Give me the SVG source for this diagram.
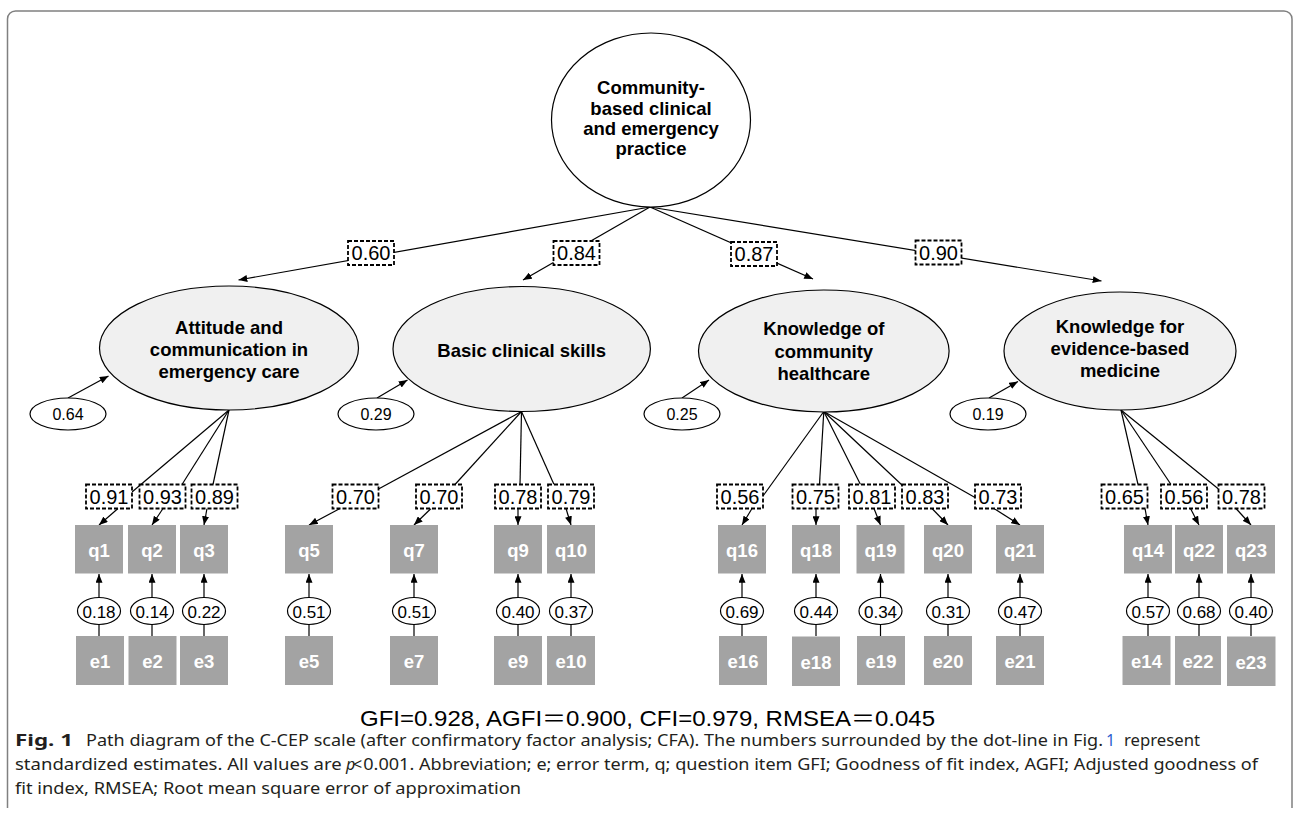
<svg xmlns="http://www.w3.org/2000/svg" width="1295" height="818" viewBox="0 0 1295 818">
<defs>
<marker id="ah" viewBox="0 0 10 8" refX="10" refY="4" markerWidth="9" markerHeight="7" markerUnits="userSpaceOnUse" orient="auto"><path d="M0,0 L10,4 L0,8 z" fill="#000"/></marker>
<style>
.ln{stroke:#000;stroke-width:1.2;fill:none}
.ar{stroke:#000;stroke-width:1.2;fill:none;marker-end:url(#ah)}
.fac{fill:#f0f0f0;stroke:#000;stroke-width:1.2}
.top{fill:#fff;stroke:#000;stroke-width:1.2}
.res{fill:#fff;stroke:#000;stroke-width:1.2}
.ld{fill:#fff;stroke:#000;stroke-width:1.8;stroke-dasharray:4 2}
.obs{fill:#a3a3a3}
.ft{font-family:"Liberation Sans",Arial,sans-serif;font-weight:bold;font-size:18.5px;fill:#000;text-anchor:middle}
.lt{font-family:"Liberation Sans",Arial,sans-serif;font-size:20px;fill:#000;text-anchor:middle}
.rt{font-family:"Liberation Sans",Arial,sans-serif;font-size:16px;fill:#000;text-anchor:middle}
.et{font-family:"Liberation Sans",Arial,sans-serif;font-size:17px;fill:#000;text-anchor:middle}
.qt{font-family:"Liberation Sans",Arial,sans-serif;font-weight:bold;font-size:18.5px;fill:#fff;text-anchor:middle}
.cap{font-family:"Noto Sans","Open Sans",sans-serif;font-size:16px;fill:#231f20}
</style>
</defs>
<path d="M7.5,808 L7.5,19 A8,8 0 0 1 15.5,11 L1284,11 A8,8 0 0 1 1292,19 L1292,808" fill="none" stroke="#808080" stroke-width="1.5"/>

<g id="connectors">
<path class="ar" d="M650,207 L238.5,280"/>
<path class="ar" d="M650,207 L523,280"/>
<path class="ar" d="M650,207 L813,279"/>
<path class="ar" d="M650,207 L1101.5,281"/>
<path class="ar" d="M68,398 L108.5,376"/>
<path class="ar" d="M377,398 L407.5,380"/>
<path class="ar" d="M682,398 L709,380"/>
<path class="ar" d="M989,398 L1018,381.5"/>
<path class="ln" d="M229,410 L132,492"/><path class="ar" d="M118,508.5 L99,525"/>
<path class="ln" d="M229,410 L182,484.5"/><path class="ar" d="M163,508.5 L152,525"/>
<path class="ln" d="M229,410 L213,484.5"/><path class="ar" d="M207,508.5 L204,525"/>
<path class="ln" d="M521.5,411.5 L378.5,489"/><path class="ar" d="M340,508.5 L309,525"/>
<path class="ln" d="M521.5,411.5 L455,484.5"/><path class="ar" d="M431,508.5 L414,525"/>
<path class="ln" d="M521.5,411.5 L520,484.5"/><path class="ar" d="M518,508.5 L518,525"/>
<path class="ln" d="M521.5,411.5 L554,484.5"/><path class="ar" d="M566,508.5 L571,525"/>
<path class="ln" d="M823.8,411.5 L763,496"/><path class="ar" d="M752,508.5 L742,525"/>
<path class="ln" d="M823.8,411.5 L819.5,484.5"/><path class="ar" d="M816,508.5 L816,525"/>
<path class="ln" d="M823.8,411.5 L860.5,484.5"/><path class="ar" d="M874,508.5 L880.5,525"/>
<path class="ln" d="M823.8,411.5 L903,486"/><path class="ar" d="M932,508.5 L948,525"/>
<path class="ln" d="M823.8,411.5 L975,497.5"/><path class="ar" d="M994,508.5 L1020,525"/>
<path class="ln" d="M1121,410 L1138,484.5"/><path class="ar" d="M1145,508.5 L1148,525"/>
<path class="ln" d="M1121,410 L1171,484.5"/><path class="ar" d="M1190.5,508.5 L1199,525"/>
<path class="ln" d="M1121,410 L1218.5,489"/><path class="ar" d="M1236,508.5 L1251,525"/>
<path class="ar" d="M99,597.5 L99,574"/><path class="ln" d="M99,624.5 L99,636"/>
<path class="ar" d="M152,597.5 L152,574"/><path class="ln" d="M152,624.5 L152,636"/>
<path class="ar" d="M204,597.5 L204,574"/><path class="ln" d="M204,624.5 L204,636"/>
<path class="ar" d="M309,597.5 L309,574"/><path class="ln" d="M309,624.5 L309,636"/>
<path class="ar" d="M414,597.5 L414,574"/><path class="ln" d="M414,624.5 L414,636"/>
<path class="ar" d="M518,597.5 L518,574"/><path class="ln" d="M518,624.5 L518,636"/>
<path class="ar" d="M571,597.5 L571,574"/><path class="ln" d="M571,624.5 L571,636"/>
<path class="ar" d="M742,597.5 L742,574"/><path class="ln" d="M742,624.5 L742,636"/>
<path class="ar" d="M816,597.5 L816,574"/><path class="ln" d="M816,624.5 L816,636"/>
<path class="ar" d="M880.5,597.5 L880.5,574"/><path class="ln" d="M880.5,624.5 L880.5,636"/>
<path class="ar" d="M948,597.5 L948,574"/><path class="ln" d="M948,624.5 L948,636"/>
<path class="ar" d="M1020,597.5 L1020,574"/><path class="ln" d="M1020,624.5 L1020,636"/>
<path class="ar" d="M1148,597.5 L1148,574"/><path class="ln" d="M1148,624.5 L1148,636"/>
<path class="ar" d="M1199,597.5 L1199,574"/><path class="ln" d="M1199,624.5 L1199,636"/>
<path class="ar" d="M1251,597.5 L1251,574"/><path class="ln" d="M1251,624.5 L1251,636"/>
</g>

<g id="loadings">
<rect class="ld" x="348" y="241" width="46" height="24"/><text class="lt" x="371" y="260">0.60</text>
<rect class="ld" x="553.5" y="241" width="46" height="24"/><text class="lt" x="576.5" y="260">0.84</text>
<rect class="ld" x="731" y="242" width="46" height="24"/><text class="lt" x="754" y="261">0.87</text>
<rect class="ld" x="915.5" y="240.5" width="46" height="24"/><text class="lt" x="938.5" y="259.5">0.90</text>
<rect class="ld" x="86" y="484.5" width="46" height="24"/><text class="lt" x="109" y="503.5">0.91</text>
<rect class="ld" x="139.5" y="484.5" width="46" height="24"/><text class="lt" x="162.5" y="503.5">0.93</text>
<rect class="ld" x="191.5" y="484.5" width="46" height="24"/><text class="lt" x="214.5" y="503.5">0.89</text>
<rect class="ld" x="332.5" y="484.5" width="46" height="24"/><text class="lt" x="355.5" y="503.5">0.70</text>
<rect class="ld" x="416" y="484.5" width="46" height="24"/><text class="lt" x="439" y="503.5">0.70</text>
<rect class="ld" x="495" y="484.5" width="46" height="24"/><text class="lt" x="518" y="503.5">0.78</text>
<rect class="ld" x="548" y="484.5" width="46" height="24"/><text class="lt" x="571" y="503.5">0.79</text>
<rect class="ld" x="717" y="484.5" width="46" height="24"/><text class="lt" x="740" y="503.5">0.56</text>
<rect class="ld" x="792.5" y="484.5" width="46" height="24"/><text class="lt" x="815.5" y="503.5">0.75</text>
<rect class="ld" x="849" y="484.5" width="46" height="24"/><text class="lt" x="872" y="503.5">0.81</text>
<rect class="ld" x="902" y="484.5" width="46" height="24"/><text class="lt" x="925" y="503.5">0.83</text>
<rect class="ld" x="975" y="484.5" width="46" height="24"/><text class="lt" x="998" y="503.5">0.73</text>
<rect class="ld" x="1101.5" y="484.5" width="46" height="24"/><text class="lt" x="1124.5" y="503.5">0.65</text>
<rect class="ld" x="1161" y="484.5" width="46" height="24"/><text class="lt" x="1184" y="503.5">0.56</text>
<rect class="ld" x="1218.5" y="484.5" width="46" height="24"/><text class="lt" x="1241.5" y="503.5">0.78</text>
</g>

<g id="n-top">
<ellipse class="top" cx="651" cy="120" rx="99.5" ry="87"/>
<text class="ft" x="651" y="94">Community-</text>
<text class="ft" x="651" y="115">based clinical</text>
<text class="ft" x="651" y="135">and emergency</text>
<text class="ft" x="651" y="155">practice</text>
</g>

<g id="n-f1">
<ellipse class="fac" cx="229" cy="348" rx="129.5" ry="62"/>
<text class="ft" x="229" y="333.5">Attitude and</text>
<text class="ft" x="229" y="356">communication in</text>
<text class="ft" x="229" y="378">emergency care</text>
</g>
<g id="n-f2">
<ellipse class="fac" cx="521.7" cy="349" rx="128.7" ry="62.5"/>
<text class="ft" x="521.7" y="357">Basic clinical skills</text>
</g>
<g id="n-f3">
<ellipse class="fac" cx="823.8" cy="351" rx="125.3" ry="61"/>
<text class="ft" x="823.8" y="335">Knowledge of</text>
<text class="ft" x="823.8" y="357.5">community</text>
<text class="ft" x="823.8" y="380">healthcare</text>
</g>
<g id="n-f4">
<ellipse class="fac" cx="1120" cy="351" rx="116" ry="59"/>
<text class="ft" x="1120" y="333">Knowledge for</text>
<text class="ft" x="1120" y="355">evidence-based</text>
<text class="ft" x="1120" y="377">medicine</text>
</g>

<g id="r-f1"><ellipse class="res" cx="68" cy="414" rx="38" ry="16"/><text class="rt" x="68" y="420">0.64</text></g>
<g id="r-f2"><ellipse class="res" cx="376" cy="414" rx="38" ry="16"/><text class="rt" x="376" y="420">0.29</text></g>
<g id="r-f3"><ellipse class="res" cx="682" cy="414" rx="38" ry="16"/><text class="rt" x="682" y="420">0.25</text></g>
<g id="r-f4"><ellipse class="res" cx="988" cy="414" rx="38" ry="16"/><text class="rt" x="988" y="420">0.19</text></g>

<g id="q1"><rect class="obs" x="75" y="525" width="48" height="48.5"/><text class="qt" x="99" y="557">q1</text></g>
<g id="q2"><rect class="obs" x="128" y="525" width="48" height="48.5"/><text class="qt" x="152" y="557">q2</text></g>
<g id="q3"><rect class="obs" x="180" y="525" width="48" height="48.5"/><text class="qt" x="204" y="557">q3</text></g>
<g id="q5"><rect class="obs" x="285" y="525" width="48" height="48.5"/><text class="qt" x="309" y="557">q5</text></g>
<g id="q7"><rect class="obs" x="390" y="525" width="48" height="48.5"/><text class="qt" x="414" y="557">q7</text></g>
<g id="q9"><rect class="obs" x="494" y="525" width="48" height="48.5"/><text class="qt" x="518" y="557">q9</text></g>
<g id="q10"><rect class="obs" x="547" y="525" width="48" height="48.5"/><text class="qt" x="571" y="557">q10</text></g>
<g id="q16"><rect class="obs" x="718" y="525" width="48" height="48.5"/><text class="qt" x="742" y="557">q16</text></g>
<g id="q18"><rect class="obs" x="792" y="525" width="48" height="48.5"/><text class="qt" x="816" y="557">q18</text></g>
<g id="q19"><rect class="obs" x="856.5" y="525" width="48" height="48.5"/><text class="qt" x="880.5" y="557">q19</text></g>
<g id="q20"><rect class="obs" x="924" y="525" width="48" height="48.5"/><text class="qt" x="948" y="557">q20</text></g>
<g id="q21"><rect class="obs" x="996" y="525" width="48" height="48.5"/><text class="qt" x="1020" y="557">q21</text></g>
<g id="q14"><rect class="obs" x="1124" y="525" width="48" height="48.5"/><text class="qt" x="1148" y="557">q14</text></g>
<g id="q22"><rect class="obs" x="1175" y="525" width="48" height="48.5"/><text class="qt" x="1199" y="557">q22</text></g>
<g id="q23"><rect class="obs" x="1227" y="525" width="48" height="48.5"/><text class="qt" x="1251" y="557">q23</text></g>

<g id="v1"><ellipse class="res" cx="99" cy="611" rx="21.5" ry="13.5"/><text class="et" x="99" y="617.5">0.18</text></g>
<g id="v2"><ellipse class="res" cx="152" cy="611" rx="21.5" ry="13.5"/><text class="et" x="152" y="617.5">0.14</text></g>
<g id="v3"><ellipse class="res" cx="204" cy="611" rx="21.5" ry="13.5"/><text class="et" x="204" y="617.5">0.22</text></g>
<g id="v5"><ellipse class="res" cx="309" cy="611" rx="21.5" ry="13.5"/><text class="et" x="309" y="617.5">0.51</text></g>
<g id="v7"><ellipse class="res" cx="414" cy="611" rx="21.5" ry="13.5"/><text class="et" x="414" y="617.5">0.51</text></g>
<g id="v9"><ellipse class="res" cx="518" cy="611" rx="21.5" ry="13.5"/><text class="et" x="518" y="617.5">0.40</text></g>
<g id="v10"><ellipse class="res" cx="571" cy="611" rx="21.5" ry="13.5"/><text class="et" x="571" y="617.5">0.37</text></g>
<g id="v16"><ellipse class="res" cx="742" cy="611" rx="21.5" ry="13.5"/><text class="et" x="742" y="617.5">0.69</text></g>
<g id="v18"><ellipse class="res" cx="816" cy="611" rx="21.5" ry="13.5"/><text class="et" x="816" y="617.5">0.44</text></g>
<g id="v19"><ellipse class="res" cx="880.5" cy="611" rx="21.5" ry="13.5"/><text class="et" x="880.5" y="617.5">0.34</text></g>
<g id="v20"><ellipse class="res" cx="948" cy="611" rx="21.5" ry="13.5"/><text class="et" x="948" y="617.5">0.31</text></g>
<g id="v21"><ellipse class="res" cx="1020" cy="611" rx="21.5" ry="13.5"/><text class="et" x="1020" y="617.5">0.47</text></g>
<g id="v14"><ellipse class="res" cx="1148" cy="611" rx="21.5" ry="13.5"/><text class="et" x="1148" y="617.5">0.57</text></g>
<g id="v22"><ellipse class="res" cx="1199" cy="611" rx="21.5" ry="13.5"/><text class="et" x="1199" y="617.5">0.68</text></g>
<g id="v23"><ellipse class="res" cx="1251" cy="611" rx="21.5" ry="13.5"/><text class="et" x="1251" y="617.5">0.40</text></g>

<g id="e1"><rect class="obs" x="76" y="636" width="48" height="49"/><text class="qt" x="100" y="668">e1</text></g>
<g id="e2"><rect class="obs" x="128.5" y="636" width="48" height="49"/><text class="qt" x="152.5" y="668">e2</text></g>
<g id="e3"><rect class="obs" x="180" y="636" width="48" height="49"/><text class="qt" x="204" y="668">e3</text></g>
<g id="e5"><rect class="obs" x="285" y="636" width="48" height="49"/><text class="qt" x="309" y="668">e5</text></g>
<g id="e7"><rect class="obs" x="390" y="636" width="48" height="49"/><text class="qt" x="414" y="668">e7</text></g>
<g id="e9"><rect class="obs" x="494" y="636" width="48" height="49"/><text class="qt" x="518" y="668">e9</text></g>
<g id="e10"><rect class="obs" x="547" y="636" width="48" height="49"/><text class="qt" x="571" y="668">e10</text></g>
<g id="e16"><rect class="obs" x="719" y="636" width="48" height="49"/><text class="qt" x="743" y="668">e16</text></g>
<g id="e18"><rect class="obs" x="792" y="636.5" width="48" height="49.5"/><text class="qt" x="816" y="669">e18</text></g>
<g id="e19"><rect class="obs" x="857" y="636" width="48" height="49"/><text class="qt" x="881" y="668">e19</text></g>
<g id="e20"><rect class="obs" x="924" y="636" width="48" height="49"/><text class="qt" x="948" y="668">e20</text></g>
<g id="e21"><rect class="obs" x="996" y="636" width="48" height="49"/><text class="qt" x="1020" y="668">e21</text></g>
<g id="e14"><rect class="obs" x="1122.5" y="636" width="48" height="49"/><text class="qt" x="1146.5" y="668">e14</text></g>
<g id="e22"><rect class="obs" x="1175" y="636" width="46" height="49"/><text class="qt" x="1198" y="668">e22</text></g>
<g id="e23"><rect class="obs" x="1227" y="636.5" width="48.5" height="49.5"/><text class="qt" x="1251" y="669">e23</text></g>

<text x="360" y="726" textLength="575" lengthAdjust="spacingAndGlyphs" style="font-family:'Liberation Sans','Noto Sans CJK JP',sans-serif;font-size:22px;fill:#000">GFI=0.928, AGFI＝0.900, CFI=0.979, RMSEA＝0.045</text>

<g id="caption">
<text class="cap" x="15" y="745.5" textLength="58" lengthAdjust="spacingAndGlyphs" style="font-weight:bold">Fig. 1</text>
<text class="cap" x="86" y="745.5" textLength="1017" lengthAdjust="spacingAndGlyphs">Path diagram of the C-CEP scale (after confirmatory factor analysis; CFA). The numbers surrounded by the dot-line in Fig.</text>
<text class="cap" x="1106" y="745.5" style="fill:#2f5fd0">1</text>
<text class="cap" x="1124" y="745.5" textLength="76" lengthAdjust="spacingAndGlyphs">represent</text>
<text class="cap" x="15" y="769.5" textLength="326.7" lengthAdjust="spacingAndGlyphs">standardized estimates. All values are</text>
<text class="cap" x="346" y="769.5" style="font-style:italic">p</text>
<text class="cap" x="353" y="769.5">&lt;</text>
<text class="cap" x="363.3" y="769.5" textLength="894.7" lengthAdjust="spacingAndGlyphs">0.001. Abbreviation; e; error term, q; question item GFI; Goodness of fit index, AGFI; Adjusted goodness of</text>
<text class="cap" x="15" y="794" textLength="506" lengthAdjust="spacingAndGlyphs">fit index, RMSEA; Root mean square error of approximation</text>
</g>
</svg>
